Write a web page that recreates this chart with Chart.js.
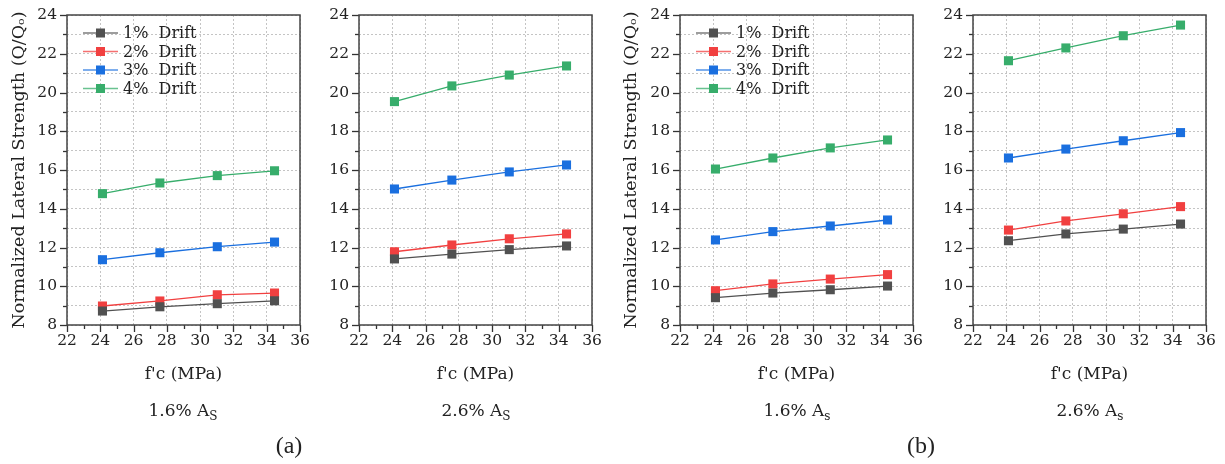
<!DOCTYPE html>
<html>
<head>
<meta charset="utf-8">
<script src="https://cdn.jsdelivr.net/npm/chart.js@4.4.0/dist/chart.umd.min.js"></script>
<style>
  html, body { margin: 0; padding: 0; background: #fff; }
  #wrap { position: relative; width: 1225px; height: 464px; overflow: hidden; }
  canvas { position: absolute; top: 0; }
  .lbl { position: absolute; transform: translateX(-50%); white-space: nowrap; color: #222; }
  .as { font: 17px "DejaVu Serif", serif; }
  .as sub { font-size: 12px; vertical-align: -4px; }
  .tag { font: 24px "Liberation Serif", "Times New Roman", serif; }
</style>
</head>
<body>
<div id="wrap">
  <canvas id="c1" width="317" height="464" style="left:0px"></canvas>
  <canvas id="c2" width="304" height="464" style="left:305px"></canvas>
  <canvas id="c3" width="318" height="464" style="left:612px"></canvas>
  <canvas id="c4" width="305" height="464" style="left:918px"></canvas>
  <div class="lbl as" style="left:183px; top:400px">1.6% A<sub>S</sub></div>
  <div class="lbl as" style="left:476px; top:400px">2.6% A<sub>S</sub></div>
  <div class="lbl as" style="left:797px; top:400px">1.6% A<sub>s</sub></div>
  <div class="lbl as" style="left:1090px; top:400px">2.6% A<sub>s</sub></div>
  <div class="lbl tag" style="left:289px; top:432px">(a)</div>
  <div class="lbl tag" style="left:921px; top:432px">(b)</div>
</div>
<script>
// f'c values (MPa)
const fc = [24.13, 27.58, 31.03, 34.47];
const drifts = ["1%  Drift", "2%  Drift", "3%  Drift", "4%  Drift"];
const colors = ["#515151", "#F14040", "#1A6FDF", "#37AD6B"];

// (a) 1.6% As
const a16_d1 = [8.72, 8.94, 9.10, 9.25];
const a16_d2 = [8.98, 9.24, 9.56, 9.65];
const a16_d3 = [11.37, 11.73, 12.04, 12.28];
const a16_d4 = [14.78, 15.33, 15.71, 15.96];
// (a) 2.6% As
const a26_d1 = [11.41, 11.66, 11.89, 12.08];
const a26_d2 = [11.78, 12.13, 12.45, 12.70];
const a26_d3 = [15.02, 15.48, 15.90, 16.26];
const a26_d4 = [19.53, 20.34, 20.90, 21.37];
// (b) 1.6% As
const b16_d1 = [9.41, 9.65, 9.82, 10.01];
const b16_d2 = [9.77, 10.12, 10.37, 10.60];
const b16_d3 = [12.39, 12.82, 13.11, 13.42];
const b16_d4 = [16.05, 16.62, 17.14, 17.55];
// (b) 2.6% As
const b26_d1 = [12.35, 12.70, 12.95, 13.21];
const b26_d2 = [12.90, 13.37, 13.74, 14.11];
const b26_d3 = [16.62, 17.08, 17.51, 17.93];
const b26_d4 = [21.64, 22.30, 22.93, 23.48];

const yTitle = "Normalized Lateral Strength (Q/Q\u2092)";
const xTitle = "f'c (MPa)";

const serif = '"DejaVu Serif", serif';

// frame box + outward ticks (major longer than minor)
const frameTicks = {
  id: "frameTicks",
  afterDraw(chart) {
    const { ctx, chartArea: a, scales } = chart;
    ctx.save();
    ctx.strokeStyle = "#333";
    ctx.lineWidth = 1.3;
    const line = (x1, y1, x2, y2) => {
      ctx.beginPath(); ctx.moveTo(x1, y1); ctx.lineTo(x2, y2); ctx.stroke();
    };
    scales.y.ticks.forEach(t => {
      const py = Math.round(scales.y.getPixelForValue(t.value)) + 0.5;
      const len = t.value % 2 === 0 ? 7 : 4;
      line(a.left - len, py, a.left, py);
    });
    scales.x.ticks.forEach(t => {
      const px = Math.round(scales.x.getPixelForValue(t.value)) + 0.5;
      const len = t.value % 2 === 0 ? 7 : 4;
      line(px, a.bottom, px, a.bottom + len);
    });
    ctx.strokeStyle = "#444";
    ctx.lineWidth = 1.5;
    ctx.strokeRect(a.left, a.top, a.right - a.left, a.bottom - a.top);
    ctx.restore();
  }
};

// legend drawn inside the plot, top left
const insideLegend = {
  id: "insideLegend",
  afterDraw(chart, args, opts) {
    if (!opts.show) return;
    const { ctx, chartArea: a } = chart;
    ctx.save();
    chart.data.datasets.forEach((ds, i) => {
      const y = a.top + 18 + i * 18.5;
      const x0 = a.left + 16, x1 = a.left + 51;
      ctx.strokeStyle = ds.borderColor;
      ctx.globalAlpha = 0.75;
      ctx.lineWidth = 1.5;
      ctx.beginPath(); ctx.moveTo(x0, y); ctx.lineTo(x1, y); ctx.stroke();
      ctx.globalAlpha = 1;
      ctx.fillStyle = ds.backgroundColor;
      ctx.fillRect((x0 + x1) / 2 - 4.5, y - 4.5, 9, 9);
      ctx.fillStyle = "#222";
      ctx.font = "16px " + serif;
      ctx.textBaseline = "middle";
      ctx.fillText(ds.label, x1 + 5, y + 1);
    });
    ctx.restore();
  }
};

function makeSets(series) {
  return series.map((vals, i) => ({
    label: drifts[i],
    data: vals.map((v, j) => ({ x: fc[j], y: v })),
    borderColor: colors[i],
    backgroundColor: colors[i],
    borderWidth: 1.3,
    pointStyle: "rect",
    pointRadius: 6.4,
    pointBorderWidth: 0,
    showLine: true
  }));
}

function makeChart(id, series, yWidth, withTitle) {
  const ctx = document.getElementById(id).getContext("2d");
  return new Chart(ctx, {
    type: "scatter",
    data: { datasets: makeSets(series) },
    options: {
      responsive: false,
      animation: false,
      devicePixelRatio: 1,
      layout: { padding: { left: 0, right: 17, top: 15, bottom: 0 } },
      plugins: {
        legend: { display: false },
        tooltip: { enabled: false },
        insideLegend: { show: withTitle }
      },
      scales: {
        x: {
          type: "linear",
          min: 22, max: 36,
          afterFit: s => { s.height = 139; s.paddingLeft = 0; s.paddingRight = 0; },
          ticks: {
            stepSize: 1, autoSkip: false, maxRotation: 0, padding: 7,
            color: "#222", font: { family: serif, size: 15.5 },
            callback: v => (v % 2 === 0 ? v : "")
          },
          grid: {
            drawTicks: false,
            color: c => (c.tick && c.tick.value % 2 === 0 ? "#c4c4c4" : "rgba(0,0,0,0)")
          },
          border: { display: false, dash: [2, 2] },
          title: {
            display: true, text: xTitle, color: "#222",
            font: { family: serif, size: 17 },
            padding: { top: 0, bottom: 79 }
          }
        },
        y: {
          min: 8, max: 24,
          afterFit: s => { s.width = yWidth; s.paddingTop = 0; s.paddingBottom = 0; },
          ticks: {
            stepSize: 1, autoSkip: false, padding: 10,
            color: "#222", font: { family: serif, size: 15.5 },
            callback: v => (v % 2 === 0 ? v : "")
          },
          grid: { drawTicks: false, color: "#c4c4c4" },
          border: { display: false, dash: [2, 2] },
          title: {
            display: withTitle, text: yTitle, color: "#222",
            font: { family: serif, size: 17.5 },
            padding: { top: 9, bottom: 0 }
          }
        }
      }
    },
    plugins: [frameTicks, insideLegend]
  });
}

makeChart("c1", [a16_d1, a16_d2, a16_d3, a16_d4], 67, true);
makeChart("c2", [a26_d1, a26_d2, a26_d3, a26_d4], 54, false);
makeChart("c3", [b16_d1, b16_d2, b16_d3, b16_d4], 68, true);
makeChart("c4", [b26_d1, b26_d2, b26_d3, b26_d4], 55, false);
</script>
</body>
</html>
